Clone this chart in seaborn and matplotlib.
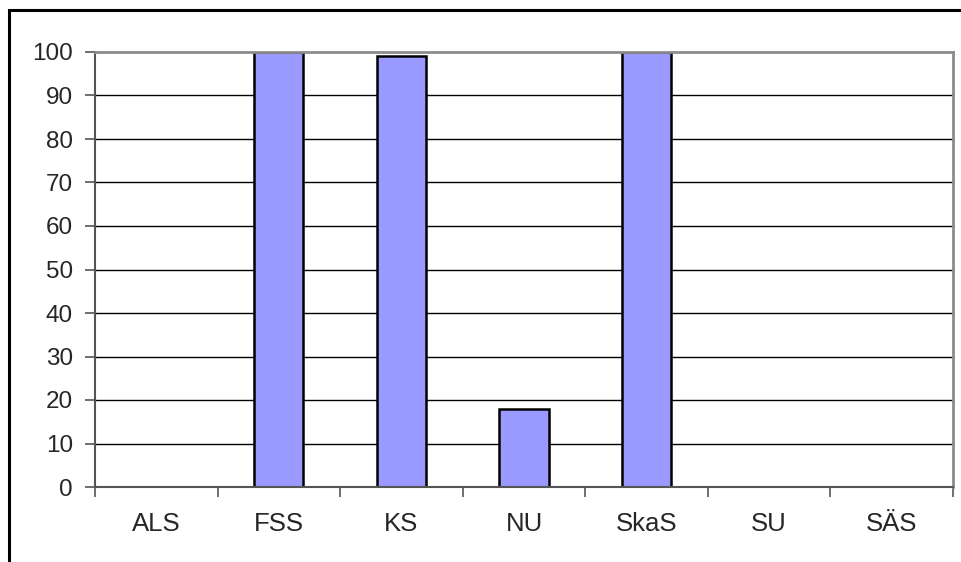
import matplotlib
matplotlib.use("Agg")
import matplotlib.pyplot as plt
from matplotlib.patches import Rectangle
from matplotlib.ticker import FixedLocator
import seaborn as sns

# data
hospitals = ["ALS", "FSS", "KS", "NU", "SkaS", "SU", "SÄS"]
values = [0, 100, 99, 18, 100, 0, 0]
y_ticks = list(range(0, 101, 10))

sns.set_style("white")
plt.rcParams["font.family"] = ["Liberation Sans", "DejaVu Sans"]

W, H = 962, 562
fig = plt.figure(figsize=(W / 100, H / 100), dpi=100)
ax = fig.add_axes([95 / W, 1 - 487 / H, (953 - 95) / W, (487 - 52) / H])

# horizontal grid lines behind the bars
for v in y_ticks[1:-1]:
    ax.axhline(v, color="black", linewidth=1, zorder=0)

sns.barplot(x=hospitals, y=values, color="#9999FF", saturation=1,
            edgecolor="black", linewidth=1.8, width=0.4, ax=ax, zorder=2)

ax.set_xlim(-0.5, len(hospitals) - 0.5)
ax.set_ylim(0, 100)
ax.set_yticks(y_ticks)
ax.set_xlabel("")
ax.set_ylabel("")

# category ticks sit on the boundaries, labels in the middle
ax.xaxis.set_minor_locator(FixedLocator([i - 0.5 for i in range(len(hospitals) + 1)]))
ax.tick_params(axis="x", which="major", length=0, pad=18, labelsize=18.5)
ax.tick_params(axis="x", which="minor", length=7, width=1.2, color="#555555", direction="out", bottom=True)
ax.tick_params(axis="y", length=7, width=1.2, color="#555555", direction="out", left=True, pad=9, labelsize=17.5)

for side in ["top", "right"]:
    ax.spines[side].set_color("#8c8c8c")
    ax.spines[side].set_linewidth(2)
for side in ["left", "bottom"]:
    ax.spines[side].set_color("#555555")
    ax.spines[side].set_linewidth(1.5)

# outer chart frame, running off the right and bottom edges
fig.patches.append(Rectangle((9 / W, -0.1), 1.2, 1.1 - 10 / H, transform=fig.transFigure,
                             fill=False, edgecolor="black", linewidth=2.2))

fig.savefig("out.png", dpi=100)
